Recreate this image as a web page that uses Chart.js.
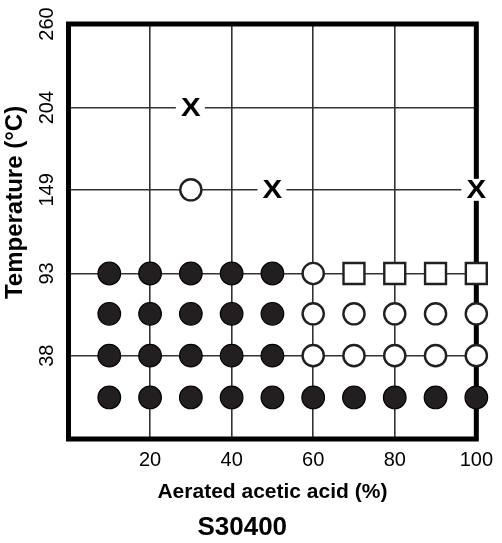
<!DOCTYPE html>
<html><head><meta charset="utf-8">
<script src="https://cdn.jsdelivr.net/npm/chart.js@4/dist/chart.umd.min.js"></script>
<style>html,body{margin:0;padding:0;background:#fff}canvas{display:block}</style>
</head><body>
<canvas id="c" width="502" height="543"></canvas>
<script>
// Tick values / labels
const xTickValues = [20, 40, 60, 80, 100];
const yTickValues = [38, 93, 149, 204, 260];
const yTickLabels = ['38', '93', '149', '204', '260'];
const xTitle = 'Aerated acetic acid (%)';
const yTitle = 'Temperature (°C)';
const chartTitle = 'S30400';

// Filled circles
const filledAcid = [10, 20, 30, 40, 50, 10, 20, 30, 40, 50, 10, 20, 30, 40, 50, 10, 20, 30, 40, 50, 60, 70, 80, 90, 100];
const filledTemp = [93, 93, 93, 93, 93, 66, 66, 66, 66, 66, 38, 38, 38, 38, 38, 10, 10, 10, 10, 10, 10, 10, 10, 10, 10];
// Open circles
const openAcid = [30, 60, 60, 70, 80, 90, 100, 60, 70, 80, 90, 100];
const openTemp = [149, 93, 66, 66, 66, 66, 66, 38, 38, 38, 38, 38];
// Open squares
const squareAcid = [70, 80, 90, 100];
const squareTemp = [93, 93, 93, 93];
// X marks
const crossAcid = [30, 50, 100];
const crossTemp = [204, 149, 149];

const FONT = '"Liberation Sans", Arial, Helvetica, sans-serif';
const INK = '#231f20';
const toPts = (xs, ys) => xs.map((x, i) => ({ x: x, y: ys[i] }));

const framePlugin = {
  id: 'frame',
  beforeDatasetsDraw(chart) {
    const { ctx, chartArea: a } = chart;
    ctx.save();
    ctx.lineWidth = 5;
    ctx.strokeStyle = '#000';
    ctx.lineJoin = 'miter';
    ctx.strokeRect(a.left, a.top, a.right - a.left, a.bottom - a.top);
    ctx.restore();
  }
};

const yTitlePlugin = {
  id: 'ytitle',
  afterDraw(chart) {
    const { ctx, chartArea: a } = chart;
    ctx.save();
    ctx.translate(15, a.top + (a.bottom - a.top) * 0.43);
    ctx.rotate(-Math.PI / 2);
    ctx.fillStyle = '#000';
    ctx.font = 'bold 24px ' + FONT;
    ctx.textAlign = 'center';
    ctx.textBaseline = 'middle';
    ctx.fillText(yTitle, 0, 0);
    ctx.restore();
  }
};

const xMarkPlugin = {
  id: 'xmarks',
  afterDatasetsDraw(chart) {
    const { ctx } = chart;
    chart.data.datasets.forEach((ds, di) => {
      if (!ds.xMark) return;
      const meta = chart.getDatasetMeta(di);
      meta.data.forEach(pt => {
        ctx.save();
        ctx.fillStyle = '#fff';
        ctx.fillRect(pt.x - 15, pt.y - 11, 29, 22);
        ctx.translate(pt.x, pt.y + 1);
        ctx.scale(1.18, 1);
        ctx.fillStyle = '#000';
        ctx.font = 'bold 25px ' + FONT;
        ctx.textAlign = 'center';
        ctx.textBaseline = 'middle';
        ctx.fillText('X', 0, 0);
        ctx.restore();
      });
    });
  }
};

new Chart(document.getElementById('c'), {
  type: 'scatter',
  data: {
    datasets: [
      { label: 'filled', data: toPts(filledAcid, filledTemp), clip: false, pointStyle: 'circle', pointRadius: 11.3, backgroundColor: INK, borderColor: '#000', borderWidth: 1.2 },
      { label: 'open', data: toPts(openAcid, openTemp), clip: false, pointStyle: 'circle', pointRadius: 10.6, backgroundColor: '#fff', borderColor: INK, borderWidth: 2.4 },
      { label: 'square', data: toPts(squareAcid, squareTemp), clip: false, pointStyle: 'rect', pointRadius: 14.8, backgroundColor: '#fff', borderColor: INK, borderWidth: 2.4 },
      { label: 'x', xMark: true, data: toPts(crossAcid, crossTemp), clip: false, pointRadius: 0, pointHoverRadius: 0, backgroundColor: '#000', borderColor: '#000' }
    ]
  },
  options: {
    responsive: false,
    animation: false,
    devicePixelRatio: 1,
    events: [],
    layout: { padding: { top: 24, right: 17.5, left: 0, bottom: 0 } },
    plugins: {
      legend: { display: false },
      tooltip: { enabled: false },
      title: {
        display: true, position: 'bottom', text: chartTitle, color: '#000',
        font: { family: FONT, size: 26, weight: 'bold', lineHeight: 1.2 },
        padding: { top: 0, bottom: 0 }
      }
    },
    scales: {
      x: {
        type: 'linear', min: 0, max: 100,
        afterBuildTicks: s => { s.ticks = xTickValues.map(v => ({ value: v })); },
        afterFit: s => { s.height = 72.8; },
        grid: { color: '#333333', lineWidth: 1.6, drawTicks: false },
        border: { display: false },
        ticks: { padding: 9, maxRotation: 0, autoSkip: false, color: '#000', font: { family: FONT, size: 20 } },
        title: { display: true, text: xTitle, color: '#000', font: { family: FONT, size: 21, weight: 'bold' }, padding: { top: 0, bottom: 7 } }
      },
      y: {
        type: 'linear', min: -17.8, max: 260,
        afterBuildTicks: s => { s.ticks = yTickValues.map(v => ({ value: v })); },
        afterFit: s => { s.width = 68.5; },
        grid: { color: '#333333', lineWidth: 1.6, drawTicks: false },
        border: { display: false },
        ticks: {
          callback: v => yTickLabels[yTickValues.indexOf(v)],
          minRotation: 90, maxRotation: 90, crossAlign: 'center', padding: 4.3,
          autoSkip: false, color: '#000', font: { family: FONT, size: 20 }
        },
        title: { display: false, text: yTitle }
      }
    }
  },
  plugins: [framePlugin, xMarkPlugin, yTitlePlugin]
});
</script>
</body></html>
